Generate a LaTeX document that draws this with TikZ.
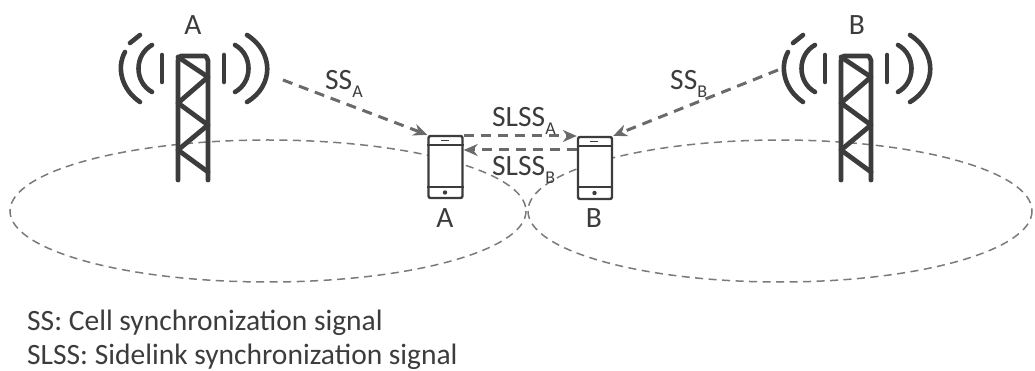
\documentclass[tikz,border=0pt]{standalone}
\usepackage{fontspec}
\setmainfont{Carlito}
\usetikzlibrary{arrows.meta}
\definecolor{ink}{HTML}{3C3C3C}
\definecolor{dash}{HTML}{7A7A7A}
\definecolor{arrowgray}{HTML}{6A6A6A}
\newcommand\lowsub[1]{\raisebox{-7.5pt}{\fontsize{18}{20}\selectfont #1}}
\tikzset{
  x=1pt,y=-1pt,
  lab/.style={text=ink,font=\fontsize{29.5}{32}\selectfont,inner sep=0pt},
  cov/.style={draw=dash,line width=1.5pt,dash pattern=on 8pt off 5.5pt},
  sig/.style={draw=arrowgray,line width=3pt,dash pattern=on 10pt off 7pt,-{Stealth[length=14pt,width=12pt]}},
  phonebox/.style={draw=ink,fill=white,line width=2.4pt,rounded corners=2pt,minimum width=34pt,minimum height=62pt,inner sep=0pt},
  mast/.style={draw=ink,line width=4.8pt,line cap=round,line join=round},
  wave/.style={draw=ink,line width=4.6pt,line cap=round},
  tower/.pic={
    \draw[mast] (0,180) -- (0,60) to[out=-90,in=180] (3,56) -- (27,56) to[out=0,in=-90] (30,60) -- (30,180);
    \draw[mast] (0,57) -- (30,77) -- (0,103) -- (30,125) -- (0,150) -- (30,172);
    \draw[wave] (-16,55) -- (-16,82);
    \draw[wave] (46,55) -- (46,82);
    \draw[wave] (-26,45) .. controls (-44,55) and (-44,82) .. (-26,92);
    \draw[wave] (57,45) .. controls (75,55) and (75,82) .. (57,92);
    \draw[wave] (-53,52) .. controls (-62,68) and (-56,90) .. (-38,102);
    \draw[wave] (-48,43) -- (-38,35);
    \draw[wave] (69,35) .. controls (96,52) and (96,86) .. (69,102);
  }
}
\begin{document}
\begin{tikzpicture}
\useasboundingbox (0,0) rectangle (1035,371);
% coverage
\node[inner sep=0pt] (covA) at (268,211) {};
\node[inner sep=0pt] (covB) at (780,211) {};
\draw[cov] (covA) ellipse [x radius=258,y radius=71];
\draw[cov] (covB) ellipse [x radius=252,y radius=71];
% towers
\pic at (178,0) {tower};
\pic at (841,0) {tower};
\coordinate (txA) at (283,80);
\coordinate (txB) at (778,70);
% phones
\node[phonebox] (phA) at (445.5,167) {};
\node[phonebox] (phB) at (595,168) {};
\draw[ink,line width=2pt] (phA.west |- 0,145) -- (phA.east |- 0,145) (phA.west |- 0,187) -- (phA.east |- 0,187);
\draw[ink,line width=2pt] (phB.west |- 0,146) -- (phB.east |- 0,146) (phB.west |- 0,187) -- (phB.east |- 0,187);
\draw[ink,line width=1.8pt] (441,140.5) -- (449,140.5);
\draw[ink,line width=1.8pt] (590,141.5) -- (598,141.5);
\fill[ink] (445,192.5) circle (2.2pt);
\fill[ink] (594.5,193) circle (2.2pt);
% connectors
\path[sig] (txA) -- (phA.north west);
\path[sig] (txB) -- (phB.north east);
\coordinate (a1) at (phA.east |- 0,136);
\coordinate (b1) at (phB.west |- 0,136);
\coordinate (a2) at (phA.east |- 0,150);
\coordinate (b2) at (phB.west |- 0,150);
\path[sig] (a1) -- (b1);
\path[sig] (b2) -- (a2);
% labels
\node[lab,anchor=base] (lA) at (193,35) {A};
\node[lab,anchor=base] (lB) at (857,35) {B};
\node[lab,anchor=base west] (lSSA) at (325,90) {SS\lowsub{A}};
\node[lab,anchor=base west] (lSSB) at (670,90) {SS\lowsub{B}};
\node[lab,anchor=base west] (lSLA) at (492,127) {SLSS\lowsub{A}};
\node[lab,anchor=base west] (lSLB) at (492,176) {SLSS\lowsub{B}};
\node[lab,anchor=base] (lpA) at (445,228) {A};
\node[lab,anchor=base] (lpB) at (594,228) {B};
\node[lab,anchor=base west] (k1) at (27,330) {SS: Cell synchronization signal};
\node[lab,anchor=base west] (k2) at (27,364) {SLSS: Sidelink synchronization signal};
\end{tikzpicture}
\end{document}
